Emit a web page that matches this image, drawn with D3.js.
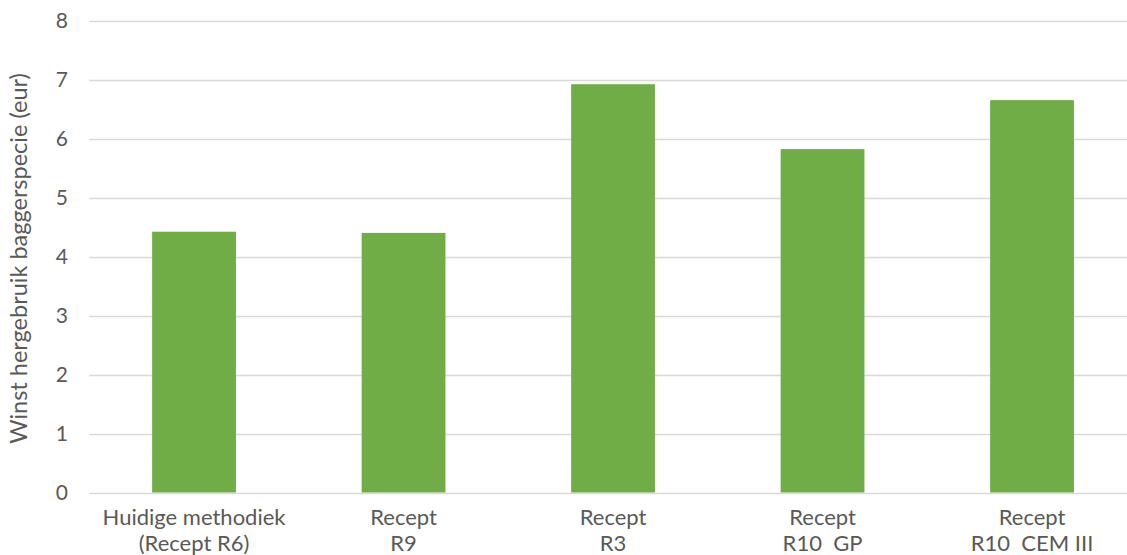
<!DOCTYPE html>
<html>
<head>
<meta charset="utf-8">
<script src="https://cdn.jsdelivr.net/npm/d3@7"></script>
<style>
  html, body { margin: 0; padding: 0; background: #ffffff; }
  svg { display: block; }
  text { font-family: Lato, "Open Sans", sans-serif; fill: #595959; }
</style>
</head>
<body>
<svg id="chart" width="1127" height="555"></svg>
<script>
// Categories (two label lines each) and values
const categoryLine1 = ["Huidige methodiek", "Recept", "Recept", "Recept", "Recept"];
const categoryLine2 = ["(Recept R6)", "R9", "R3", "R10  GP", "R10  CEM III"];
const values = [4.42, 4.40, 6.92, 5.82, 6.65];
const yTicks = [0, 1, 2, 3, 4, 5, 6, 7, 8];
const yTitle = "Winst hergebruik baggerspecie (eur)";

const svg = d3.select("#chart");
const plot = { left: 89.3, right: 1136.8, top: 20.5, bottom: 492.5 };

const keys = d3.range(values.length);
const x = d3.scaleBand()
  .domain(keys)
  .range([plot.left, plot.right])
  .paddingInner(0.6)
  .paddingOuter(0.3);

const y = d3.scaleLinear()
  .domain([0, 8])
  .range([plot.bottom, plot.top]);

// Horizontal gridlines
svg.append("g")
  .selectAll("line")
  .data(yTicks)
  .join("line")
  .attr("x1", plot.left)
  .attr("x2", plot.right)
  .attr("y1", d => Math.round(y(d)) + 0.5)
  .attr("y2", d => Math.round(y(d)) + 0.5)
  .attr("stroke", "#d9d9d9")
  .attr("stroke-width", 1.3);

// Bars
svg.append("g")
  .selectAll("rect")
  .data(values)
  .join("rect")
  .attr("x", (d, i) => x(i))
  .attr("width", x.bandwidth())
  .attr("y", d => y(d))
  .attr("height", d => y(0) - y(d))
  .attr("fill", "#70ad47");

// Y axis tick labels
const yAxis = d3.axisLeft(y).tickValues(yTicks).tickSize(0).tickPadding(0).tickFormat(d3.format("d"));
const yg = svg.append("g")
  .attr("transform", `translate(68,0)`)
  .call(yAxis);
yg.select(".domain").remove();
yg.selectAll("text")
  .attr("font-size", 21)
  .attr("font-family", "Lato, 'Open Sans', sans-serif")
  .attr("fill", "#595959");

// Category labels, two lines per bar
const xl = svg.append("g");
xl.selectAll("text.l1")
  .data(categoryLine1)
  .join("text")
  .attr("class", "l1")
  .attr("x", (d, i) => x(i) + x.bandwidth() / 2)
  .attr("y", 525)
  .attr("text-anchor", "middle")
  .attr("font-size", 22)
  .text(d => d);
xl.selectAll("text.l2")
  .data(categoryLine2)
  .join("text")
  .attr("class", "l2")
  .attr("x", (d, i) => x(i) + x.bandwidth() / 2)
  .attr("y", 551)
  .attr("text-anchor", "middle")
  .attr("font-size", 22)
  .attr("xml:space", "preserve")
  .style("white-space", "pre")
  .text(d => d);

// Y axis title
svg.append("text")
  .attr("transform", `translate(27, ${(plot.top + plot.bottom) / 2 + 2}) rotate(-90)`)
  .attr("text-anchor", "middle")
  .attr("font-size", 23.5)
  .text(yTitle);
</script>
</body>
</html>
